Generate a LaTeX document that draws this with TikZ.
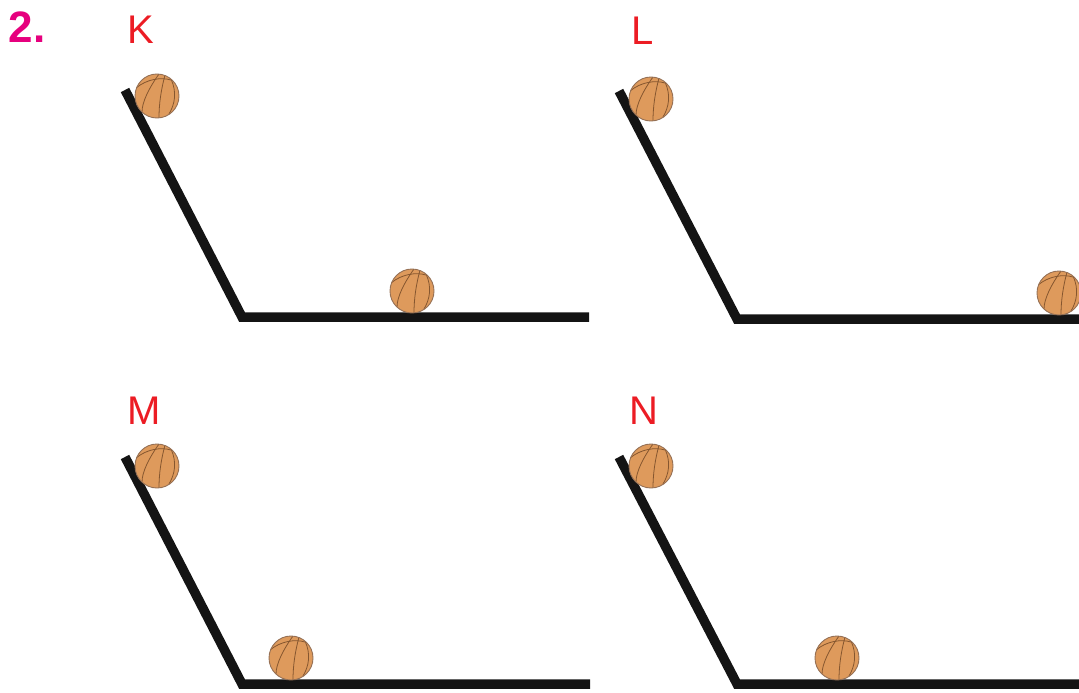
\documentclass[tikz,border=0pt]{standalone}
\usepackage{fontspec}
\setmainfont{Liberation Sans}
\definecolor{labred}{HTML}{EC1C24}
\definecolor{labmag}{HTML}{E6007E}
\definecolor{ballfill}{HTML}{DE9A5C}
\definecolor{balledge}{HTML}{957055}
\definecolor{seam}{HTML}{85562F}
\definecolor{rampcol}{HTML}{141414}
\tikzset{
  ramp/.style={draw=rampcol, line width=9.5pt, line join=miter, line cap=butt},
  lab/.style={text=labred, font=\fontsize{40}{40}\selectfont, inner sep=0pt, anchor=center},
  seam/.style={draw=seam},
  ball/.style={circle, minimum size=44pt, inner sep=0pt, fill=ballfill, draw=balledge, line width=0.9pt,
    path picture={
      \begin{scope}[shift={(path picture bounding box.center)}, seam, line width=0.8pt]
        \draw (-21,-8) .. controls (-10,-17) and (4,-19) .. (14,-16);
        \draw (2,-22) .. controls (-8,-8) and (-15,6) .. (-15,16);
        \draw (8,-21) .. controls (4,-6) and (2,8) .. (2,22);
        \draw (14,-17) .. controls (20,-4) and (18,8) .. (12,18);
      \end{scope}
    }}
}
\begin{document}
\begin{tikzpicture}[x=1pt,y=-1pt]
\useasboundingbox (0,0) rectangle (1079,693);
\clip (0,0) rectangle (1079,693);
% number
\node[text=labmag, font=\fontsize{44}{44}\selectfont\bfseries, inner sep=0pt, anchor=center] (num) at (27,27) {2.};
% labels
\node[lab] (labK) at (141,30) {K};
\node[lab] (labL) at (643,31) {L};
\node[lab] (labM) at (144,411) {M};
\node[lab] (labN) at (644,411) {N};
% ramps
\coordinate (kA) at (125,90);  \coordinate (kB) at (242,317); \coordinate (kC) at (589,317);
\coordinate (lA) at (619,91);  \coordinate (lB) at (737,319); \coordinate (lC) at (1085,319);
\coordinate (mA) at (125,457); \coordinate (mB) at (242,684); \coordinate (mC) at (590,684);
\coordinate (nA) at (619,457); \coordinate (nB) at (737,684); \coordinate (nC) at (1085,684);
\draw[ramp] (kA) -- (kB) -- (kC);
\draw[ramp] (lA) -- (lB) -- (lC);
\draw[ramp] (mA) -- (mB) -- (mC);
\draw[ramp] (nA) -- (nB) -- (nC);
% balls
\node[ball] (kTop) at (157,96) {};
\node[ball] (kBot) at (412,291) {};
\node[ball] (lTop) at (651,99) {};
\node[ball] (lBot) at (1059,293) {};
\node[ball] (mTop) at (157,466) {};
\node[ball] (mBot) at (291,658) {};
\node[ball] (nTop) at (651,466) {};
\node[ball] (nBot) at (837,658) {};
\end{tikzpicture}
\end{document}
